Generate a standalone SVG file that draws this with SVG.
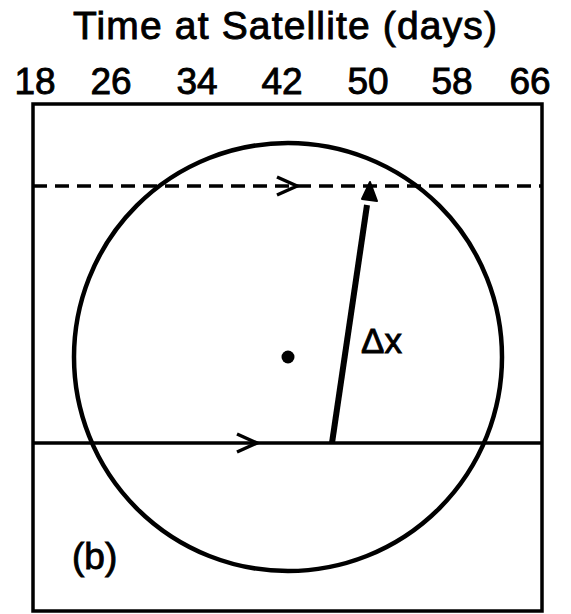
<svg xmlns="http://www.w3.org/2000/svg" width="571" height="614" viewBox="0 0 571 614">
<style>
text{font-family:"Liberation Sans",Arial,sans-serif;fill:#000;stroke:#000;stroke-width:0.9}
.tick{font-size:37px;text-anchor:middle}
.ln{stroke:#000;fill:none}
.w3{stroke-width:3.5}
.w4{stroke-width:4.5}
.w6{stroke-width:6}
</style>
<rect width="571" height="614" fill="#fff"/>
<g id="title">
<text x="285" y="39" font-size="39" text-anchor="middle" textLength="424" lengthAdjust="spacing">Time at Satellite (days)</text>
</g>
<g id="ticks">
<text class="tick" x="35" y="94">18</text>
<text class="tick" x="111" y="94">26</text>
<text class="tick" x="197" y="94">34</text>
<text class="tick" x="282" y="94">42</text>
<text class="tick" x="368" y="94">50</text>
<text class="tick" x="452" y="94">58</text>
<text class="tick" x="530" y="94">66</text>
</g>
<g id="frame">
<rect x="33" y="104" width="509" height="507" class="ln w3"/>
</g>
<g id="circle">
<circle cx="288" cy="357" r="214" class="ln w4"/>
<circle cx="288" cy="357" r="6.5" fill="#000"/>
</g>
<g id="connectors">
<line x1="33" y1="186" x2="542" y2="186" class="ln w3" stroke-dasharray="14 8"/>
<polyline points="277,177 297,186 277,195" class="ln w3"/>
<line x1="33" y1="443" x2="542" y2="443" class="ln w3"/>
<polyline points="237,434 257,443 237,452" class="ln w3"/>
<line x1="332" y1="443" x2="367" y2="205" class="ln w6"/>
<path d="M370,182 L377,201 L362,199 Z" fill="#000" stroke="#000" stroke-width="2" stroke-linejoin="round"/>
</g>
<g id="labels">
<text x="361" y="353" font-size="35">Δx</text>
<text x="72" y="569" font-size="37">(b)</text>
</g>
</svg>
